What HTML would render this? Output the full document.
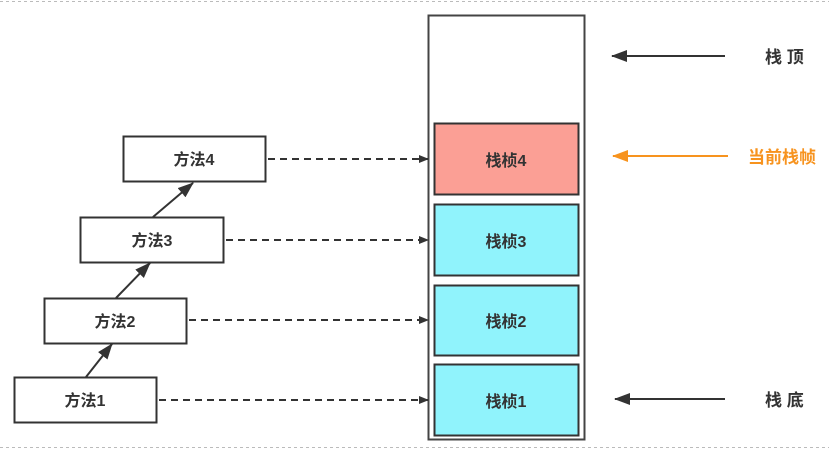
<!DOCTYPE html>
<html><head><meta charset="utf-8"><style>
body{margin:0;background:#fff;}
svg text{font-family:"Liberation Sans","Noto Sans CJK SC",sans-serif;font-weight:bold;fill:#333;}
</style></head><body>
<svg width="829" height="450" viewBox="0 0 829 450" xmlns="http://www.w3.org/2000/svg">
<defs>
<marker id="a" markerWidth="10" markerHeight="8" refX="9" refY="4" orient="auto" markerUnits="userSpaceOnUse"><path d="M0,0L10,4L0,8z" fill="#333"/></marker>
<marker id="b" markerWidth="16" markerHeight="12" refX="15" refY="6" orient="auto" markerUnits="userSpaceOnUse"><path d="M0,0L16,6L0,12z" fill="#333"/></marker>
<marker id="o" markerWidth="16" markerHeight="12" refX="15" refY="6" orient="auto" markerUnits="userSpaceOnUse"><path d="M0,0L16,6L0,12z" fill="#f7931e"/></marker>
</defs>
<line x1="0" y1="1.5" x2="829" y2="1.5" stroke="#bbb" stroke-dasharray="3,3"/>
<line x1="0" y1="447.5" x2="829" y2="447.5" stroke="#bbb" stroke-dasharray="3,3"/>
<rect x="428.5" y="15.5" width="156" height="424" fill="#fff" stroke="#444" stroke-width="2"/>
<rect x="434.5" y="123.5" width="144" height="71" fill="#fb9f95" stroke="#333" stroke-width="2"/>
<rect x="434.5" y="204.5" width="144" height="71" fill="#90f3fc" stroke="#333" stroke-width="2"/>
<rect x="434.5" y="285.5" width="144" height="70" fill="#90f3fc" stroke="#333" stroke-width="2"/>
<rect x="434.5" y="364.5" width="144" height="71" fill="#90f3fc" stroke="#333" stroke-width="2"/>
<text x="506" y="166" font-size="16" text-anchor="middle">栈桢4</text>
<text x="506" y="247" font-size="16" text-anchor="middle">栈桢3</text>
<text x="506" y="327" font-size="16" text-anchor="middle">栈桢2</text>
<text x="506" y="407" font-size="16" text-anchor="middle">栈桢1</text>
<g fill="#fff" stroke="#333" stroke-width="2">
<rect x="123.5" y="136.5" width="142" height="45"/>
<rect x="80.5" y="217.5" width="143" height="45"/>
<rect x="44.5" y="298.5" width="142" height="45"/>
<rect x="14.5" y="377.5" width="142" height="45"/>
</g>
<text x="194" y="165" font-size="16" text-anchor="middle">方法4</text>
<text x="152" y="246" font-size="16" text-anchor="middle">方法3</text>
<text x="115" y="327" font-size="16" text-anchor="middle">方法2</text>
<text x="85" y="406" font-size="16" text-anchor="middle">方法1</text>
<g stroke="#333" stroke-width="2" marker-end="url(#b)">
<line x1="86" y1="377" x2="112" y2="344"/>
<line x1="116" y1="298" x2="150" y2="263"/>
<line x1="153" y1="217" x2="193" y2="183"/>
</g>
<g stroke="#333" stroke-width="2" stroke-dasharray="7,5" marker-end="url(#a)">
<line x1="268" y1="159" x2="428" y2="159"/>
<line x1="226" y1="240" x2="428" y2="240"/>
<line x1="189" y1="320" x2="428" y2="320"/>
<line x1="159" y1="400" x2="428" y2="400"/>
</g>
<line x1="725" y1="56" x2="612" y2="56" stroke="#333" stroke-width="2" marker-end="url(#b)"/>
<line x1="728" y1="156" x2="613" y2="156" stroke="#f7931e" stroke-width="2" marker-end="url(#o)"/>
<line x1="725" y1="399" x2="615" y2="399" stroke="#333" stroke-width="2" marker-end="url(#b)"/>
<text x="765" y="63" font-size="17">栈 顶</text>
<text x="748" y="163" font-size="17" style="fill:#f7931e">当前栈帧</text>
<text x="765" y="406" font-size="17">栈 底</text>
</svg>
</body></html>
